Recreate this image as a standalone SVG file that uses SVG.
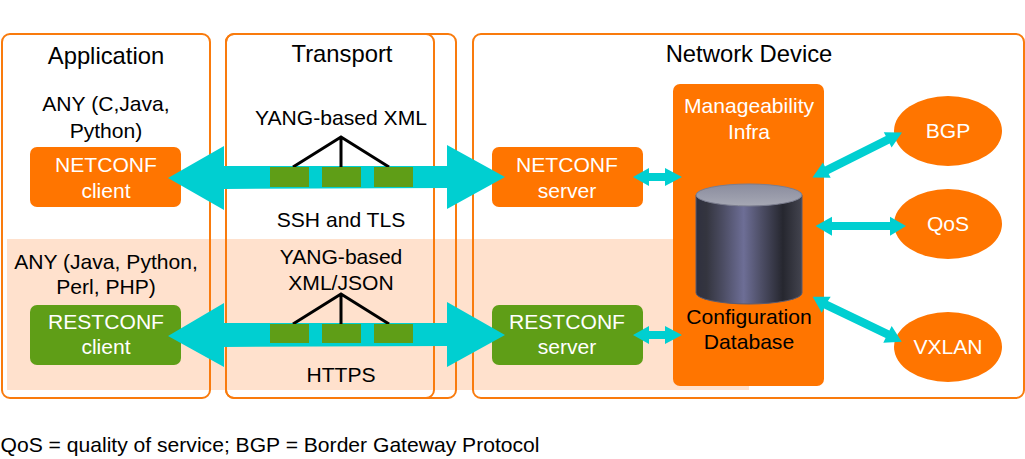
<svg xmlns="http://www.w3.org/2000/svg" width="1025" height="459" viewBox="0 0 1025 459">
<style>
text{font-family:"Liberation Sans",Arial,sans-serif;font-size:21.1px;text-anchor:middle;fill:#000}
.h{font-size:23.8px}
.w{fill:#fff}
.frame{fill:none;stroke:#f97b0d;stroke-width:2}
.or{fill:#ff7500}
.gr{fill:#5f9e17}
.cy{fill:#00cfd1}
.tie{fill:none;stroke:#000;stroke-width:3}
</style>
<defs>
<linearGradient id="body" x1="0" x2="1" y1="0" y2="0">
<stop offset="0" stop-color="#2f303f"/><stop offset="0.1" stop-color="#34353f"/><stop offset="0.25" stop-color="#4b4c62"/><stop offset="0.45" stop-color="#6d6e96"/><stop offset="0.6" stop-color="#50516a"/><stop offset="0.82" stop-color="#26272f"/><stop offset="1" stop-color="#43444f"/>
</linearGradient>
<linearGradient id="lid" x1="0" x2="0" y1="0" y2="1">
<stop offset="0" stop-color="#8a8c9e"/><stop offset="1" stop-color="#a6a8b4"/>
</linearGradient>
</defs>
<rect x="7" y="239" width="742" height="151" fill="#ffe1cd"/>
<g id="application"><rect class="frame" x="2" y="34" width="208" height="364" rx="8"/>
<text class="h" x="106" y="64">Application</text></g>
<g id="transport"><rect class="frame" x="226" y="34" width="230" height="364" rx="8"/><rect class="frame" x="226" y="34" width="208" height="364" rx="8"/>
<text class="h" x="342" y="62">Transport</text></g>
<g id="network-device"><rect class="frame" x="473" y="34" width="551" height="364" rx="8"/>
<text class="h" x="749" y="62">Network Device</text></g>
<text x="106" y="111">ANY (C,Java,</text><text x="106" y="138">Python)</text>
<text x="341" y="125">YANG-based XML</text>
<text x="341" y="227">SSH and TLS</text>
<text x="106" y="269">ANY (Java, Python,</text><text x="106" y="294">Perl, PHP)</text>
<text x="341" y="264">YANG-based</text><text x="341" y="290">XML/JSON</text>
<text x="341" y="382">HTTPS</text>
<g id="netconf-client"><rect class="or" x="30" y="147" width="151" height="60" rx="7"/><text class="w" x="106" y="172">NETCONF</text><text class="w" x="106" y="198">client</text></g>
<g id="restconf-client"><rect class="gr" x="30" y="305" width="151" height="60" rx="7"/><text class="w" x="106" y="329">RESTCONF</text><text class="w" x="106" y="354">client</text></g>
<g id="netconf-server"><rect class="or" x="492" y="147" width="151" height="60" rx="7"/><text class="w" x="567" y="172">NETCONF</text><text class="w" x="567" y="198">server</text></g>
<g id="restconf-server"><rect class="gr" x="492" y="305" width="151" height="60" rx="7"/><text class="w" x="567" y="329">RESTCONF</text><text class="w" x="567" y="354">server</text></g>
<g id="manageability-infra"><rect class="or" x="673" y="84" width="151" height="302" rx="7"/><text class="w" x="749" y="113">Manageability</text><text class="w" x="749" y="139">Infra</text>
<path d="M696 195V293A53 11 0 0 0 802 293V195Z" fill="url(#body)" stroke="#5a5b70"/>
<ellipse cx="749" cy="195" rx="53" ry="11" fill="url(#lid)" stroke="#7b7d8e"/>
<text x="749" y="324">Configuration</text><text x="749" y="349">Database</text></g>
<g id="bgp"><ellipse class="or" cx="948" cy="131" rx="54" ry="35"/><text class="w" x="948" y="138">BGP</text></g>
<g id="qos"><ellipse class="or" cx="948" cy="224" rx="54" ry="35"/><text class="w" x="948" y="231">QoS</text></g>
<g id="vxlan"><ellipse class="or" cx="948" cy="347" rx="54" ry="35"/><text class="w" x="948" y="354">VXLAN</text></g>
<g id="connectors">
<path class="cy" d="M168 178L224 146V166H447V145L505 177L447 209V188L224 189V210Z"/>
<path class="cy" d="M168 336L224 303V323H447V302L505 335L447 367V346L224 347V367Z"/>
<path class="cy" d="M633 177L649 168V173H665V168L682 177L665 186V181H649V186Z"/>
<path class="cy" d="M633 335L649 326V331H665V326L682 335L665 344V339H649V344Z"/>
<path class="cy" d="M812.5 177.5L822.9 162.6L824.9 166.5L885.8 136.1L883.8 132.2L902 132.5L891.6 147.4L889.6 143.5L828.7 173.9L830.7 177.8Z"/>
<path class="cy" d="M815.5 226L832 216.7V222H890V216.7L906 226L890 235.7V230H832V235.7Z"/>
<path class="cy" d="M812.7 296.7L830.7 296.7L827.9 300.9L889.4 330.5L891.7 326L901.7 341.7L883.3 342.7L885.6 338.1L824.1 308.5L821.7 312.7Z"/>
<path class="tie" d="M293 167L341 137L389 167M341 137V167"/>
<path class="tie" d="M293 324L341 294L389 324M341 294V324"/>
<g class="gr"><rect x="270" y="167" width="39" height="20"/><rect x="322" y="167" width="39" height="20"/><rect x="374" y="167" width="39" height="20"/>
<rect x="270" y="324" width="39" height="19"/><rect x="322" y="324" width="39" height="19"/><rect x="374" y="324" width="39" height="19"/></g>
</g>
<text x="270" y="452">QoS = quality of service; BGP = Border Gateway Protocol</text>
</svg>
